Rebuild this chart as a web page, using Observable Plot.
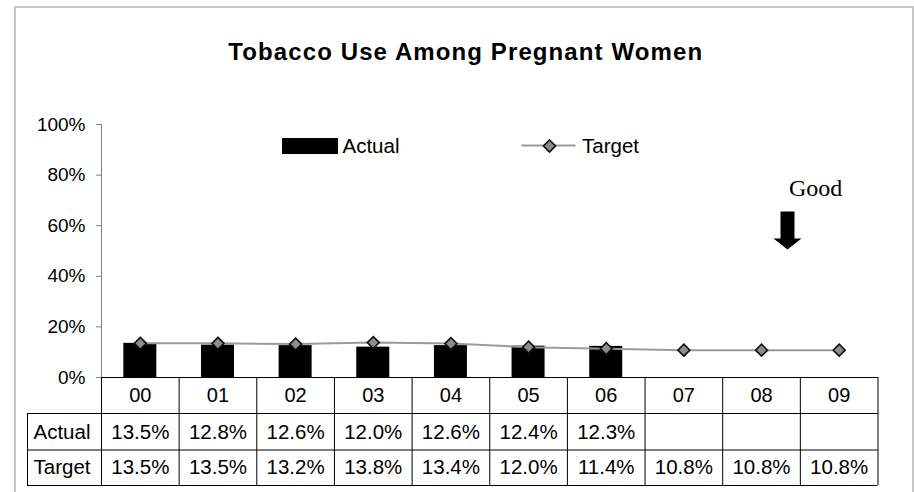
<!DOCTYPE html>
<html>
<head>
<meta charset="utf-8">
<script src="https://cdn.jsdelivr.net/npm/d3@7"></script>
<script src="https://cdn.jsdelivr.net/npm/@observablehq/plot@0.6"></script>
<style>
  html, body { margin: 0; padding: 0; overflow: hidden; background: #fff; }
  #wrap { position: relative; width: 914px; height: 492px; }
  #chart { position: absolute; left: 0; top: 0; }
  #border { position: absolute; left: 14px; top: 6px; width: 900px; height: 540px;
            border: 2px solid #c8c8c8; box-sizing: border-box; pointer-events: none; }
</style>
</head>
<body>
<div id="wrap"><div id="chart"></div><div id="border"></div></div>
<script>
// Fiscal years and rates (fractions of 1)
const years = ["00", "01", "02", "03", "04", "05", "06", "07", "08", "09"];
const actual = [0.135, 0.128, 0.126, 0.120, 0.126, 0.124, 0.123];
const target = [0.135, 0.135, 0.132, 0.138, 0.134, 0.120, 0.114, 0.108, 0.108, 0.108];
const yTicks = [0, 0.2, 0.4, 0.6, 0.8, 1];
const title = "Tobacco Use Among Pregnant Women";

const actualRows = actual.map((value, i) => ({i, year: years[i], value}));
const targetRows = target.map((value, i) => ({i, year: years[i], value}));
const pct = v => (v * 100).toFixed(1) + "%";

const sans = "Arial, 'Liberation Sans', sans-serif";
const serif = "'Times New Roman', 'Liberation Serif', serif";
const barHalf = 0.2125;

// Block arrow used under the "Good" note
const downArrow = {
  draw(ctx) {
    ctx.moveTo(-7, -19);
    ctx.lineTo(7, -19);
    ctx.lineTo(7, 8);
    ctx.lineTo(14, 8);
    ctx.lineTo(0, 19);
    ctx.lineTo(-14, 8);
    ctx.lineTo(-7, 8);
    ctx.closePath();
  }
};

const diamondStyle = {symbol: "diamond2", r: 5.4, fill: "#8c8c8c", stroke: "#111", strokeWidth: 1.6};
const cellFont = {fontSize: 20.5, lineAnchor: "middle"};

const chart = Plot.plot({
  width: 914,
  height: 492,
  marginLeft: 101,
  marginRight: 36.5,
  marginTop: 124,
  marginBottom: 7,
  x: {type: "linear", domain: [-0.5, 9.5], axis: null},
  y: {domain: [0, 1], range: [377, 124], axis: null},
  style: {fontFamily: sans, color: "#000", background: "transparent", overflow: "visible"},
  marks: [
    // title
    Plot.text([title], {frameAnchor: "top", dx: -24, dy: -72, lineAnchor: "middle",
                        fontSize: 24, fontWeight: "bold"}),

    // y axis
    Plot.ruleX([-0.5], {insetBottom: 108, stroke: "#808080"}),
    Plot.axisY(yTicks, {tickSize: 5, tickPadding: 11, tickFormat: d3.format(".0%"), label: null,
                        fontSize: 19, color: "#000", stroke: "#808080"}),

    // actual bars
    Plot.rectY(actualRows, {x1: d => d.i - barHalf, x2: d => d.i + barHalf, y: "value", fill: "#000"}),

    // target line with diamond markers
    Plot.line(targetRows, {x: "i", y: "value", stroke: "#9a9a9a", strokeWidth: 2}),
    Plot.dot(targetRows, {x: "i", y: "value", ...diamondStyle}),

    // data table: borders
    Plot.ruleY([0], {x1: -0.5, x2: 9.5, stroke: "#000"}),
    ...[36, 72.5, 108].map(dy => Plot.ruleY([0], {x1: -0.5, x2: 9.5, insetLeft: -74, dy, stroke: "#000"})),
    Plot.ruleX(d3.range(11).map(k => k - 0.5), {insetTop: 253, stroke: "#000"}),
    Plot.ruleX([-0.5], {insetTop: 289, dx: -74, stroke: "#000"}),

    // data table: contents
    Plot.text(years, {x: (d, i) => i, y: 0, dy: 18, ...cellFont, fontSize: 20}),
    Plot.text(actualRows, {x: "i", y: 0, dy: 54.5, text: d => pct(d.value), ...cellFont}),
    Plot.text(targetRows, {x: "i", y: 0, dy: 89.5, text: d => pct(d.value), ...cellFont}),
    Plot.text(["Actual"], {x: -0.5, y: 0, dx: -68, dy: 54.5, textAnchor: "start", ...cellFont}),
    Plot.text(["Target"], {x: -0.5, y: 0, dx: -68, dy: 89.5, textAnchor: "start", ...cellFont}),

    // legend
    Plot.rect([0], {fill: "#000", insetLeft: 181, insetRight: 539.5, insetTop: 14, insetBottom: 331}),
    Plot.text(["Actual"], {frameAnchor: "top-left", dx: 241, dy: 22, textAnchor: "start", ...cellFont}),
    Plot.rect([0], {fill: "#9a9a9a", insetLeft: 420.5, insetRight: 302, insetTop: 20.5, insetBottom: 338.5}),
    Plot.dot([0], {frameAnchor: "top-left", dx: 448, dy: 21.5, ...diamondStyle}),
    Plot.text(["Target"], {frameAnchor: "top-left", dx: 480.5, dy: 22, textAnchor: "start", ...cellFont}),

    // direction note
    Plot.text(["Good"], {frameAnchor: "top-left", dx: 687.5, dy: 64, lineAnchor: "middle",
                         fontFamily: serif, fontSize: 24}),
    Plot.dot([0], {frameAnchor: "top-left", dx: 686, dy: 106, symbol: downArrow, fill: "#000", stroke: "none"})
  ]
});

document.getElementById("chart").appendChild(chart);

d3.select(chart).selectAll("text")
  .filter(function () { return this.textContent === title; })
  .style("letter-spacing", "1.1px");
</script>
</body>
</html>
